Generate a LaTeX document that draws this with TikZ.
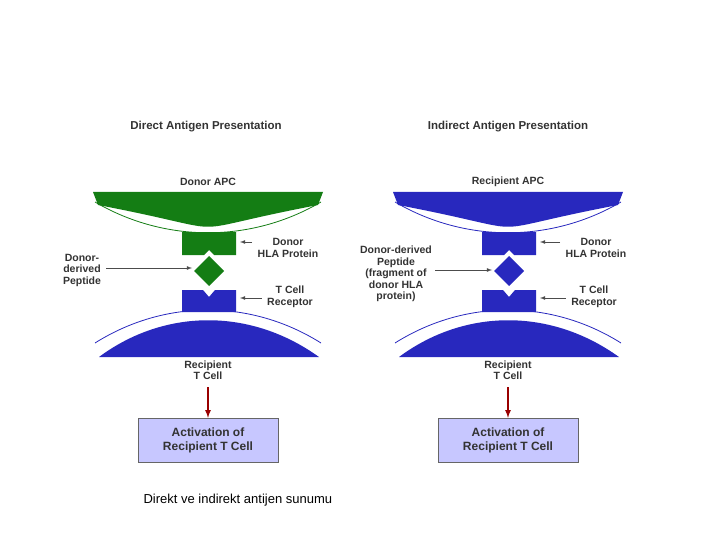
\documentclass[tikz,border=0pt]{standalone}
\usepackage{fontspec}
\setmainfont{Liberation Sans}
\begin{document}
\begin{tikzpicture}[x=1pt,y=-1pt,
  lbl/.style={font=\bfseries\fontsize{10.5}{11.5}\selectfont,align=center,text=black!80},
  ttl/.style={font=\bfseries\fontsize{11.5}{13}\selectfont,text=black!80},
  act/.style={draw=black!60,fill=blue!22,minimum width=140pt,minimum height=44pt,font=\bfseries\fontsize{12}{14}\selectfont,align=center,text=black!80},
  ptr/.style={draw=black!70,line width=0.8pt,-latex},
  red/.style={draw=red!60!black,line width=1.6pt,-latex}]
\useasboundingbox (0,0) rectangle (720,540);
\definecolor{dg}{RGB}{20,125,20}
\definecolor{db}{RGB}{40,40,190}
\foreach \dx/\top in {0/dg,300/db}{
\begin{scope}[xshift=\dx pt]
 % top cell
 \fill[\top] (93,192) -- (323,192) -- (318,205) .. controls (166,234) and (250,234) .. (98,205) -- cycle;
 \draw[\top,line width=0.8pt] (95,202) .. controls (165,243) and (251,243) .. (321,202);
 % HLA
 \fill[\top] (182,232) -- (236,232) -- (236,255) -- (214,255) -- (209,250) -- (204,255) -- (182,255) -- cycle;
 \fill[\top] (209,256) -- (224,271) -- (209,286) -- (194,271) -- cycle;
 % TCR
 \fill[db] (182,290) -- (203,290) -- (209,297) -- (215,290) -- (236,290) -- (236,312) -- (182,312) -- cycle;
 % bottom cell
 \draw[db,line width=0.8pt] (95,343) .. controls (165,299) and (251,299) .. (321,343);
 \fill[db] (99,357) .. controls (165,308) and (251,308) .. (319,357) -- cycle;
\end{scope}}
% left panel text
\node[ttl] (t1) at (206,127) {Direct Antigen Presentation};
\node[lbl] (a1) at (208,182) {Donor APC};
\node[lbl] (h1) at (288,248) {Donor\\HLA Protein};
\node[lbl] (p1) at (82,270) {Donor-\\derived\\Peptide};
\node[lbl] (r1) at (290,297) {T Cell\\Receptor};
\node[lbl] (c1) at (208,370) {Recipient\\T Cell};
\node[act] (b1) at (208,440) {Activation of\\Recipient T Cell};
\coordinate (hh1) at (240,242); \coordinate (pp1) at (192,268); \coordinate (rr1) at (240,298);
\draw[ptr] (h1.west|-hh1) ++(-2,0) -- (hh1);
\draw[ptr] (p1.east|-pp1) ++(2,0) -- (pp1);
\draw[ptr] (r1.west|-rr1) ++(-2,0) -- (rr1);
\draw[red] (c1.south) ++(0,4) -- (b1.north);
% right panel text
\node[ttl] (t2) at (508,127) {Indirect Antigen Presentation};
\node[lbl] (a2) at (508,182) {Recipient APC};
\node[lbl] (h2) at (596,248) {Donor\\HLA Protein};
\node[lbl] (p2) at (396,274) {Donor-derived\\Peptide\\(fragment of\\donor HLA\\protein)};
\node[lbl] (r2) at (594,297) {T Cell\\Receptor};
\node[lbl] (c2) at (508,370) {Recipient\\T Cell};
\node[act] (b2) at (508,440) {Activation of\\Recipient T Cell};
\coordinate (hh2) at (540,242); \coordinate (pp2) at (492,270); \coordinate (rr2) at (540,298);
\draw[ptr] (h2.west|-hh2) ++(-2,0) -- (hh2);
\draw[ptr] (p2.east|-pp2) ++(0,0) -- (pp2);
\draw[ptr] (r2.west|-rr2) ++(-2,0) -- (rr2);
\draw[red] (c2.south) ++(0,4) -- (b2.north);
\node[font=\fontsize{13}{15}\selectfont,anchor=west] (cap) at (140,500) {Direkt ve indirekt antijen sunumu};
\end{tikzpicture}
\end{document}
